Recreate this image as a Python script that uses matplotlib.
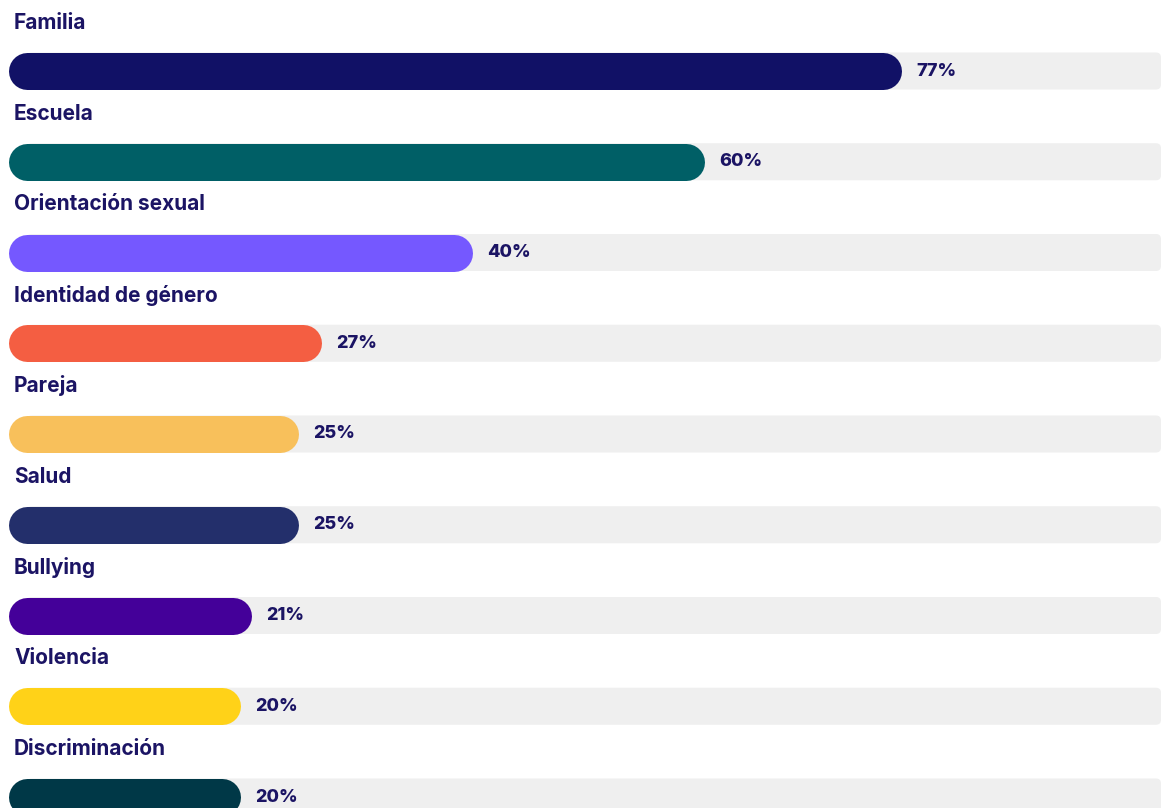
import matplotlib.pyplot as plt
from matplotlib.patches import FancyBboxPatch

# Datos
categorias = ['Familia', 'Escuela', 'Orientación sexual', 'Identidad de género',
              'Pareja', 'Salud', 'Bullying', 'Violencia', 'Discriminación']
valores = [77, 60, 40, 27, 25, 25, 21, 20, 20]
colores = ['#111166', '#005F66', '#7558FF', '#F45E42', '#F8C05B',
           '#232F6B', '#440099', '#FFD218', '#003847']

texto_color = '#1B1464'
pista_color = '#EFEFEF'

W, H = 1162, 808
fig = plt.figure(figsize=(W / 100, H / 100), dpi=100)
ax = fig.add_axes([0, 0, 1, 1])

# escala en pixeles por unidad
px_x = 11.6
px_y = 90.75
ax.set_xlim(-8 / px_x, (W - 8) / px_x)
ax.set_ylim((H - 71) / px_y, -71 / px_y)
ax.axis('off')

alto = 37 / px_y
r = 18.5 / px_x
lw_pt = 37 * 72 / 100
fin_pista = (1161 - 8) / px_x

for i, (cat, val, col) in enumerate(zip(categorias, valores, colores)):
    # pista de fondo (esquinas pequenas)
    ax.add_patch(FancyBboxPatch((r, i - alto / 2), fin_pista - r, alto,
                                boxstyle=f'round,pad=0,rounding_size={5 / px_x}',
                                mutation_aspect=px_x / px_y, fc=pista_color, ec='none'))
    # barra redondeada
    ax.plot([r, val - r], [i, i], color=col, lw=lw_pt, solid_capstyle='round')
    ax.text(6 / px_x, i - 48 / px_y, cat, ha='left', va='center',
            fontsize=15, fontweight='bold', color=texto_color, family='Inter')
    ax.text(val + 15 / px_x, i, f'{val}%', ha='left', va='center',
            fontsize=13, fontweight='heavy', color=texto_color, family='Inter')

fig.savefig('out.png', dpi=100)
